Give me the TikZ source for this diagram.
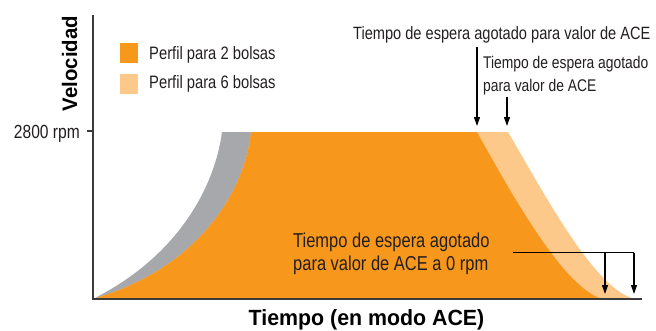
\documentclass[tikz,border=0pt]{standalone}
\usepackage{fontspec}
\setmainfont{Liberation Sans}
\newfontfamily\condf{Liberation Sans}[FakeStretch=0.82]
\newfontfamily\condbf{Liberation Sans Bold}[FakeStretch=0.97]
\usetikzlibrary{arrows.meta}
\definecolor{orangeA}{HTML}{F7981D}
\definecolor{orangeB}{HTML}{FDC98B}
\definecolor{grayA}{HTML}{A6A8AB}
\definecolor{txt}{HTML}{231F20}
\definecolor{axisc}{HTML}{3A3A3A}
\tikzset{
  lbl/.style={inner sep=0pt, text=txt, anchor=base west},
  arr/.style={draw=black, line width=1.1pt, -{Triangle[length=9pt,width=6pt]}},
  bar/.style={draw=black, line width=1.1pt},
  axisline/.style={draw=axisc, line width=1.6pt},
  legsq/.style={inner sep=0pt, minimum width=18pt, minimum height=20pt, draw=none}
}
\begin{document}
\begin{tikzpicture}[x=1pt,y=-1pt]
\useasboundingbox (0,0) rectangle (656,330);
% fills
\fill[grayA] (93,299) .. controls (180,255) and (215,185) .. (222,132) -- (260,132) -- (260,299) -- cycle;
\fill[orangeB] (93,299) .. controls (200,268) and (245,190) .. (251,132) -- (508,132) .. controls (545,195) and (595,290) .. (635,299) -- cycle;
\fill[orangeA] (93,299) .. controls (200,268) and (245,190) .. (251,132) -- (477,132) .. controls (512,195) and (565,290) .. (603,299) -- cycle;
% axes
\coordinate (ytop) at (93,15);
\coordinate (orig) at (93,299);
\coordinate (xend) at (642,299);
\coordinate (tickl) at (87,131);
\coordinate (tickr) at (93,131);
\draw[axisline] (ytop) -- (orig) -- (xend);
\draw[axisline, line width=1.3pt] (tickl) -- (tickr);
% axis labels
\node[lbl, anchor=base east, font=\condf\fontsize{19}{23}\selectfont] (rpm) at (80,138) {2800 rpm};
\node[inner sep=0pt, text=black, rotate=90, anchor=base, font=\condbf\fontsize{21}{25}\selectfont] (vel) at (77,63.5) {Velocidad};
\node[inner sep=0pt, text=black, anchor=base, font=\condbf\fontsize{22}{25}\selectfont] (tiempo) at (366.5,325) {Tiempo (en modo ACE)};
% legend
\node[legsq, fill=orangeA] (sq1) at (129,53) {};
\node[legsq, fill=orangeB] (sq2) at (129,83.5) {};
\node[lbl, font=\condf\fontsize{18}{22}\selectfont] (leg1) at (149,59) {Perfil para 2 bolsas};
\node[lbl, font=\condf\fontsize{18}{22}\selectfont] (leg2) at (149,88) {Perfil para 6 bolsas};
% top labels
\node[lbl, font=\condf\fontsize{17.8}{23}\selectfont] (top1) at (353,39) {Tiempo de espera agotado para valor de ACE};
\node[lbl, align=left, font=\condf\fontsize{16.9}{23}\selectfont] (top2) at (483,91) {Tiempo de espera agotado\\para valor de ACE};
% bottom label
\node[lbl, align=left, font=\condf\fontsize{20.1}{23.5}\selectfont] (bot) at (293,270.5) {Tiempo de espera agotado\\para valor de ACE a 0 rpm};
% arrows top
\coordinate (a1s) at (477,47);
\coordinate (a1e) at (477,126);
\coordinate (a2s) at (507,97);
\coordinate (a2e) at (507,126);
\draw[arr] (a1s) -- (a1e);
\draw[arr] (a2s) -- (a2e);
% arrows bottom
\coordinate (hl) at (513,252.5);
\coordinate (hr) at (634,252.5);
\coordinate (b1s) at (605,252.5);
\coordinate (b1e) at (605,294);
\coordinate (b2e) at (634,294);
\draw[bar] (hl) -- (hr);
\draw[arr] (b1s) -- (b1e);
\draw[arr] (hr) -- (b2e);
\end{tikzpicture}
\end{document}
